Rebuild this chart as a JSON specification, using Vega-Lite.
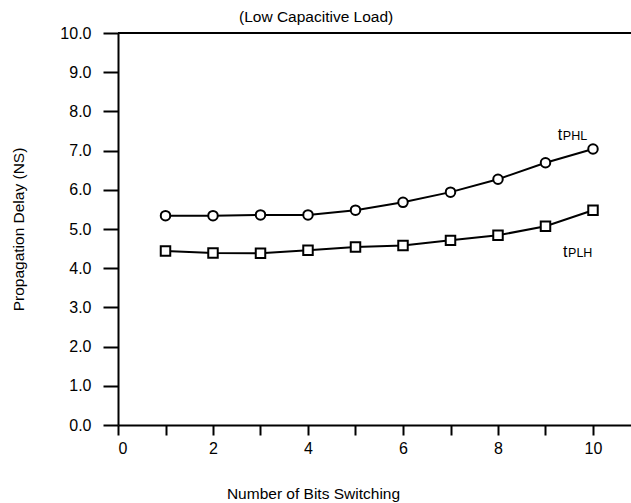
{
  "$schema": "https://vega.github.io/schema/vega-lite/v6.json",
  "width": 513,
  "height": 392,
  "autosize": {"type": "none"},
  "padding": {"left": 118, "top": 33, "right": 0, "bottom": 78},
  "background": "white",
  "config": {
    "view": {"stroke": null},
    "font": "Liberation Sans",
    "axis": {"grid": false, "domainColor": "black", "domainWidth": 2, "tickColor": "black", "tickWidth": 2, "labelColor": "black", "titleColor": "black", "labelFont": "Liberation Sans", "titleFont": "Liberation Sans", "titleFontWeight": "normal", "labelOverlap": false}
  },
  "title": {"text": "(Low Capacitive Load)", "anchor": "start", "frame": "group", "dx": 121, "offset": 0, "fontSize": 15.5, "fontWeight": "normal", "font": "Liberation Sans", "color": "black"},
  "datasets": {
    "series": [
      {"bits": 1, "delay": 5.34, "series": "tPHL"},
      {"bits": 2, "delay": 5.34, "series": "tPHL"},
      {"bits": 3, "delay": 5.36, "series": "tPHL"},
      {"bits": 4, "delay": 5.36, "series": "tPHL"},
      {"bits": 5, "delay": 5.48, "series": "tPHL"},
      {"bits": 6, "delay": 5.68, "series": "tPHL"},
      {"bits": 7, "delay": 5.94, "series": "tPHL"},
      {"bits": 8, "delay": 6.27, "series": "tPHL"},
      {"bits": 9, "delay": 6.69, "series": "tPHL"},
      {"bits": 10, "delay": 7.04, "series": "tPHL"},
      {"bits": 1, "delay": 4.44, "series": "tPLH"},
      {"bits": 2, "delay": 4.39, "series": "tPLH"},
      {"bits": 3, "delay": 4.38, "series": "tPLH"},
      {"bits": 4, "delay": 4.46, "series": "tPLH"},
      {"bits": 5, "delay": 4.54, "series": "tPLH"},
      {"bits": 6, "delay": 4.58, "series": "tPLH"},
      {"bits": 7, "delay": 4.71, "series": "tPLH"},
      {"bits": 8, "delay": 4.84, "series": "tPLH"},
      {"bits": 9, "delay": 5.07, "series": "tPLH"},
      {"bits": 10, "delay": 5.48, "series": "tPLH"}
    ],
    "labels": [
      {"bits": 9.26, "delay": 7.27, "t": "t", "sub": "PHL"},
      {"bits": 9.37, "delay": 4.28, "t": "t", "sub": "PLH"}
    ]
  },
  "encoding": {
    "y": {
      "field": "delay", "type": "quantitative",
      "scale": {"domain": [0, 10], "nice": false, "zero": true},
      "axis": {
        "tickCount": 12,
        "values": [0, 1, 2, 3, 4, 5, 6, 7, 8, 9, 10],
        "format": ".1f",
        "labelOverlap": false,
        "tickSize": 15, "labelPadding": 12, "labelFontSize": 16,
        "title": "Propagation Delay (NS)", "titleFontSize": 15.5,
        "titleX": -100, "titleY": 196, "titleBaseline": "middle", "titleAnchor": "middle"
      }
    }
  },
  "layer": [
    {
      "data": {"name": "series"},
      "mark": {"type": "line", "color": "black", "strokeWidth": 2},
      "encoding": {
        "x": {
          "field": "bits", "type": "quantitative",
          "scale": {"domain": [0, 10.8], "nice": false, "zero": false},
          "axis": {
            "tickCount": 12,
            "values": [0, 1, 2, 3, 4, 5, 6, 7, 8, 9, 10],
            "labelExpr": "datum.value % 2 === 0 ? datum.label : ''",
            "tickSize": 10, "labelPadding": 5, "labelFontSize": 16,
            "title": "Number of Bits Switching", "titleFontSize": 15.5,
            "titleX": 195, "titleY": 68, "titleBaseline": "middle", "titleAnchor": "middle"
          }
        },
        "detail": {"field": "series"}
      }
    },
    {
      "data": {"name": "series"},
      "mark": {"type": "point", "filled": false, "stroke": "black", "strokeWidth": 2, "size": 90, "fill": "white", "fillOpacity": 1},
      "encoding": {
        "x": {"field": "bits", "type": "quantitative"},
        "shape": {"field": "series", "type": "nominal", "scale": {"domain": ["tPHL", "tPLH"], "range": ["circle", "square"]}, "legend": null}
      }
    },
    {
      "data": {"name": "labels"},
      "mark": {"type": "text", "align": "left", "baseline": "alphabetic", "fontSize": 16, "color": "black", "font": "Liberation Sans"},
      "encoding": {
        "x": {"field": "bits", "type": "quantitative"},
        "text": {"field": "t"}
      }
    },
    {
      "data": {"name": "labels"},
      "mark": {"type": "text", "align": "left", "baseline": "alphabetic", "fontSize": 12.5, "dx": 5, "dy": 0, "color": "black", "font": "Liberation Sans"},
      "encoding": {
        "x": {"field": "bits", "type": "quantitative"},
        "text": {"field": "sub"}
      }
    },
    {
      "data": {"values": [{"top": 10}]},
      "mark": {"type": "rule", "strokeWidth": 2, "color": "black"},
      "encoding": {"y": {"field": "top", "type": "quantitative"}}
    }
  ]
}
